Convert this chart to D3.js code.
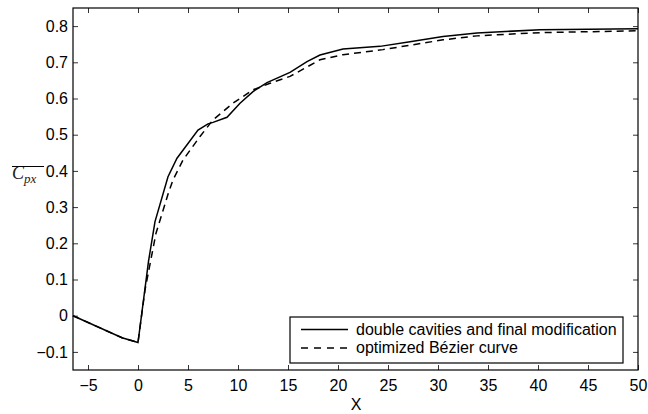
<!DOCTYPE html>
<html>
<head>
<meta charset="utf-8">
<script src="https://cdn.jsdelivr.net/npm/d3@7"></script>
<style>
  body { margin: 0; background: #fff; }
  text { font-family: "Liberation Sans", Arial, sans-serif; }
</style>
</head>
<body>
<svg id="chart" width="648" height="414"></svg>
<script>
// values
const solidX = [-6.5, -1.6, 0, 1.05, 1.7, 3.0, 3.9, 6.0, 7.0, 7.5, 8.9, 10.2, 11.5, 12.9, 15.2, 16.9, 18.2, 20.5, 24.2, 27.2, 30.5, 33.9, 40.2, 50];
const solidY = [0.0, -0.061, -0.074, 0.15, 0.26, 0.384, 0.435, 0.513, 0.53, 0.534, 0.548, 0.587, 0.619, 0.644, 0.672, 0.702, 0.72, 0.737, 0.744, 0.757, 0.771, 0.781, 0.79, 0.793];
const dashX = [-6.5, -1.6, 0, 0.7, 1.8, 3.03, 3.5, 4.5, 6.2, 7.5, 9.5, 11.5, 13.2, 15.2, 18.2, 20.5, 24.5, 30.5, 33.9, 40.2, 50];
const dashY = [0.0, -0.061, -0.074, 0.071, 0.228, 0.338, 0.375, 0.43, 0.495, 0.541, 0.587, 0.624, 0.642, 0.661, 0.707, 0.721, 0.735, 0.762, 0.773, 0.782, 0.787];
const xTicks = [-5, 0, 5, 10, 15, 20, 25, 30, 35, 40, 45, 50];
const yTicks = [-0.1, 0, 0.1, 0.2, 0.3, 0.4, 0.5, 0.6, 0.7, 0.8];
const seriesNames = ['double cavities and final modification', 'optimized B\u00e9zier curve'];

const svg = d3.select('#chart');
const pl = 73, pr = 638, pt = 8, pb = 370;

const x = d3.scaleLinear().domain([-6.5, 50]).range([pl, pr]);
const y = d3.scaleLinear().domain([-0.15, 0.85]).range([pb, pt]);

const fmtY = d => (d < 0 ? '\u2212' : '') + (d === 0 ? '0' : Math.abs(d).toFixed(1));
const fmtX = d => (d < 0 ? '\u2212' : '') + Math.abs(d);

// axes, ticks pointing inward, mirrored on top/right
svg.append('g').attr('transform', `translate(0,${pb})`)
  .call(d3.axisBottom(x).tickValues(xTicks).tickSizeInner(-5).tickSizeOuter(0).tickPadding(10).tickFormat(fmtX));
svg.append('g').attr('transform', `translate(0,${pt})`)
  .call(d3.axisTop(x).tickValues(xTicks).tickSizeInner(-5).tickSizeOuter(0).tickFormat(''));
svg.append('g').attr('transform', `translate(${pl},0)`)
  .call(d3.axisLeft(y).tickValues(yTicks).tickSizeInner(-5).tickSizeOuter(0).tickPadding(5).tickFormat(fmtY));
svg.append('g').attr('transform', `translate(${pr},0)`)
  .call(d3.axisRight(y).tickValues(yTicks).tickSizeInner(-5).tickSizeOuter(0).tickFormat(''));

svg.selectAll('.domain').remove();
svg.selectAll('.tick line').attr('stroke', '#000').attr('stroke-width', 0.8);
svg.selectAll('.tick text').attr('font-size', 16).attr('fill', '#000');

svg.append('rect')
  .attr('x', pl).attr('y', pt)
  .attr('width', pr - pl).attr('height', pb - pt)
  .attr('fill', 'none').attr('stroke', '#000').attr('stroke-width', 1.2);

const line = d3.line().x(d => x(d[0])).y(d => y(d[1]));

svg.append('path')
  .datum(solidX.map((v, i) => [v, solidY[i]]))
  .attr('d', line)
  .attr('fill', 'none').attr('stroke', '#000').attr('stroke-width', 1.5);

svg.append('path')
  .datum(dashX.map((v, i) => [v, dashY[i]]))
  .attr('d', line)
  .attr('fill', 'none').attr('stroke', '#000').attr('stroke-width', 1.5)
  .attr('stroke-dasharray', '7,5');

// axis labels
svg.append('text')
  .attr('x', 356).attr('y', 410)
  .attr('text-anchor', 'middle').attr('font-size', 16)
  .text('X');

// y label: overlined C_px in math italic
const yl = svg.append('text')
  .attr('x', 12).attr('y', 179)
  .attr('font-size', 18)
  .style('font-family', '"Liberation Serif", "DejaVu Serif", serif')
  .style('font-style', 'italic')
  .attr('fill', '#222');
yl.append('tspan').text('C');
yl.append('tspan').attr('font-size', 13).attr('dy', 4).text('px');
svg.append('line')
  .attr('x1', 12).attr('x2', 44).attr('y1', 166.5).attr('y2', 166.5)
  .attr('stroke', '#000').attr('stroke-width', 1);

// legend
const lg = svg.append('g');
lg.append('rect')
  .attr('x', 290).attr('y', 317)
  .attr('width', 333).attr('height', 46)
  .attr('fill', '#fff').attr('stroke', '#000').attr('stroke-width', 1.2);

seriesNames.forEach((name, i) => {
  const cy = 329.5 + i * 18.5;
  lg.append('line')
    .attr('x1', 301).attr('x2', 348).attr('y1', cy).attr('y2', cy)
    .attr('stroke', '#000').attr('stroke-width', 1.5)
    .attr('stroke-dasharray', i === 1 ? '7,6' : null);
  lg.append('text')
    .attr('x', 356).attr('y', cy + 5)
    .attr('font-size', 16)
    .text(name);
});
</script>
</body>
</html>
